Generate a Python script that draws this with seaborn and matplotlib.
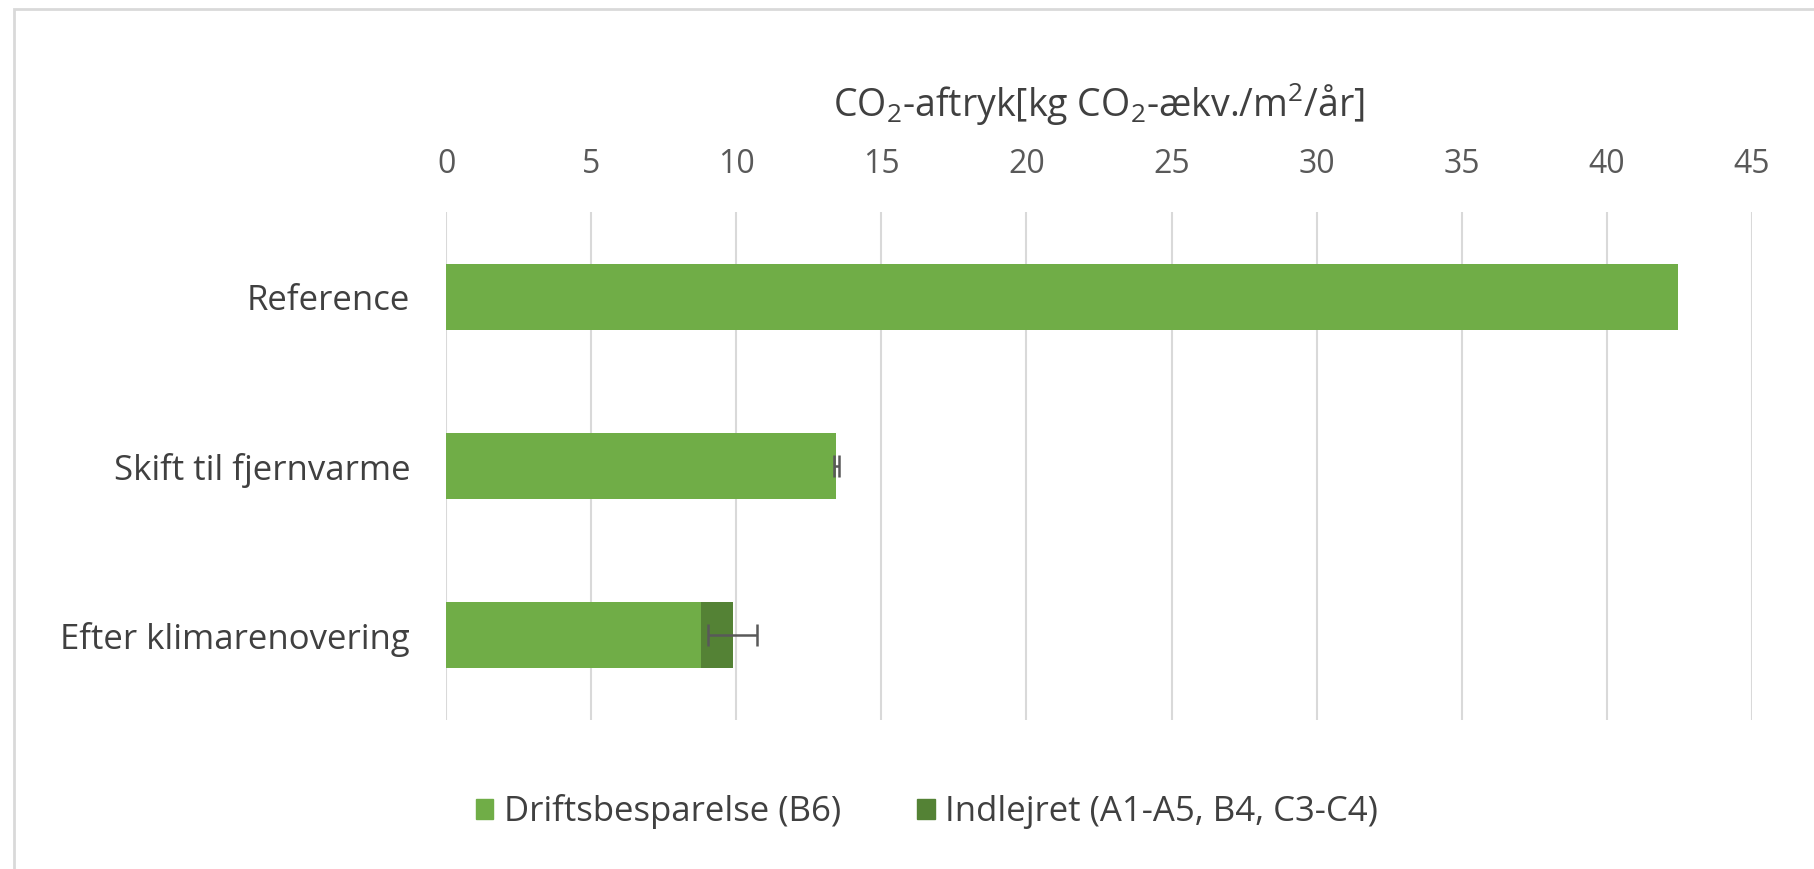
import matplotlib
matplotlib.use("Agg")
import matplotlib.pyplot as plt
import seaborn as sns
import pandas as pd
from matplotlib.patches import Rectangle, Patch

# data
categories = ["Reference", "Skift til fjernvarme", "Efter klimarenovering"]
drift = [42.45, 13.45, 8.77]
indlejret = [0.0, 0.0, 1.1]
err = [0.0, 0.1, 0.85]
xticks = [0, 5, 10, 15, 20, 25, 30, 35, 40, 45]

light = "#70AD47"
dark = "#548235"
txt = "#404040"

sns.set_theme(style="white")
plt.rcParams["font.family"] = ["Open Sans", "DejaVu Sans"]
plt.rcParams["mathtext.fontset"] = "custom"
plt.rcParams["mathtext.rm"] = "Open Sans"
plt.rcParams["mathtext.it"] = "Open Sans:italic"

total = [d + i for d, i in zip(drift, indlejret)]
df = pd.DataFrame({"kategori": categories, "drift": drift, "total": total})

fig = plt.figure(figsize=(18.14, 8.69), dpi=100)
ax = fig.add_axes([0.246, 0.1715, 0.7197, 0.5845])

# stacked look: total in dark, drift part on top in light
sns.barplot(data=df, y="kategori", x="total", color=dark, saturation=1,
            width=0.39, ax=ax, orient="h", linewidth=0)
sns.barplot(data=df, y="kategori", x="drift", color=light, saturation=1,
            width=0.39, ax=ax, orient="h", linewidth=0)

for i, (t, e) in enumerate(zip(total, err)):
    if e > 0:
        ax.errorbar(t, i, xerr=e, fmt="none", ecolor="#595959",
                    elinewidth=1.8, capsize=8, capthick=1.8)

ax.set_xlim(0, 45)
ax.set_ylim(2.5, -0.5)
ax.set_xticks(xticks)
ax.xaxis.tick_top()
ax.xaxis.set_label_position("top")
ax.set_xlabel("CO$_2$-aftryk[kg CO$_2$-ækv./m$^2$/år]", fontsize=27, color=txt, labelpad=23)
ax.set_ylabel("")
ax.tick_params(axis="x", labelsize=23, colors="#595959", length=0, pad=22)
ax.tick_params(axis="y", labelsize=25, colors=txt, length=0, pad=26)
ax.grid(axis="x", color="#D9D9D9", linewidth=1.5)
ax.set_axisbelow(True)
for s in ax.spines.values():
    s.set_visible(False)

handles = [Patch(color=light, label="Driftsbesparelse (B6)"),
           Patch(color=dark, label="Indlejret (A1-A5, B4, C3-C4)")]
fig.legend(handles=handles, loc="center", bbox_to_anchor=(0.511, 0.066), ncol=2,
           frameon=False, fontsize=25, handlelength=0.5, handleheight=0.5,
           handletextpad=0.3, columnspacing=2.2, labelcolor=txt)

fig.patches.append(Rectangle((14 / 1814, -0.1), 1.2, 1 - 9 / 869 + 0.1,
                             transform=fig.transFigure, fill=False,
                             edgecolor="#D9D9D9", linewidth=2))

fig.savefig("out.png", dpi=100, facecolor="white")
